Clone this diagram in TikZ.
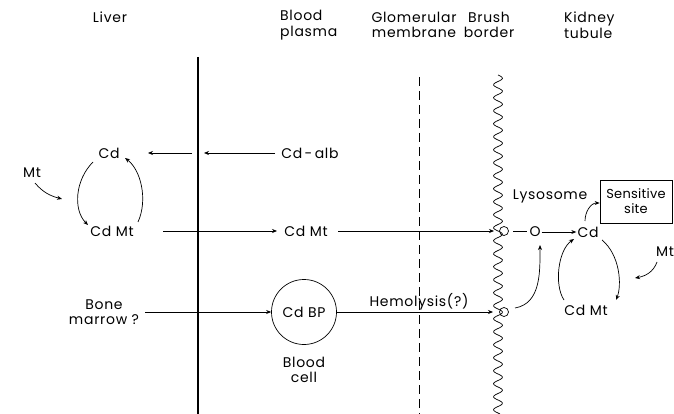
\documentclass[tikz,border=0pt]{standalone}
\usepackage{fontspec}
\setmainfont{Poppins}[LetterSpace=5]
\usetikzlibrary{arrows.meta}
\begin{document}
\begin{tikzpicture}[x=1pt,y=-1pt,
  font=\fontsize{14}{15.5}\selectfont,
  arr/.style={-{Stealth[length=5pt,width=4pt]}, line width=0.7pt},
  lbl/.style={inner sep=1pt, align=center},
  thin/.style={line width=0.7pt}]
\useasboundingbox (0,0) rectangle (674,414);
\fill[white] (0,0) rectangle (674,414);
% header
\node[lbl] (liver) at (110,17) {Liver};
\node[lbl, align=left, anchor=west] (plasma) at (279,25) {Blood\\plasma};
\node[lbl] (glom) at (414,25) {Glomerular\\membrane};
\node[lbl] (brush) at (489,25) {Brush\\border};
\node[lbl, align=left, anchor=west] (kidney) at (563,25) {Kidney\\tubule};
% membranes
\draw[line width=1.2pt] (198,57) -- (198,414);
\draw[line width=0.6pt, dash pattern=on 9pt off 5pt] (419,77) -- (419,414);
\draw[thin] plot[domain=75:414, samples=300, smooth] ({498+4.5*sin(27.6923*(\x-75))},\x);
\draw[thin] (504,231) circle (4.5);
\draw[thin] (504,312) circle (4.5);
% nodes
\node[lbl] (cdL) at (109,153) {Cd};
\node[lbl] (cdalb) at (310,153) {Cd\,-\,alb};
\node[lbl] (mtL) at (32,173) {Mt};
\node[lbl] (cdmtL) at (112,231) {Cd Mt};
\node[lbl] (cdmtP) at (306,231) {Cd Mt};
\node[lbl] (bone) at (104,312) {Bone\\marrow ?};
\node[circle, draw, thin, minimum size=65pt, inner sep=0pt] (cdbp) at (304,312) {Cd BP};
\node[lbl] (hemo) at (419,302) {Hemolysis(?)};
\node[lbl] (bcell) at (304,370) {Blood\\cell};
\node[lbl] (lyso) at (550,196) {Lysosome};
\node[draw, thin, minimum width=72pt, minimum height=43pt, align=center, inner sep=1pt,
  font=\fontsize{13}{15}\selectfont\addfontfeatures{LetterSpace=2}] (sens) at (636,201.5) {Sensitive\\site};
\node[lbl] (O) at (535,232) {O};
\node[lbl] (cdK) at (588,232) {Cd};
\node[lbl] (cdmtK) at (586,310) {Cd Mt};
\node[lbl] (mtK) at (665,252) {Mt};
% coordinates
\coordinate (wallA) at (192,153);
\coordinate (tipA) at (148,153);
\coordinate (tipB) at (204,153);
\coordinate (startB) at (275,153);
\coordinate (startC) at (163,231);
\coordinate (tipC) at (277,231);
\coordinate (startD) at (338,231);
\coordinate (loopA) at (494,231);
\coordinate (startE) at (145,312);
\coordinate (loopB) at (493,312);
% liver arrows
\draw[arr] (wallA) -- (tipA);
\draw[arr] (startB) -- (tipB);
\draw[arr] (93,162) .. controls (75,180) and (73,210) .. (88,225);
\draw[arr] (138,222) .. controls (148,200) and (141,170) .. (125,158);
\draw[arr] (35,183) to[out=-50,in=165] (62,199);
% plasma flows
\draw[arr] (startC) -- (tipC);
\draw[arr] (startD) -- (loopA);
\draw[arr] (startE) -- (cdbp.west);
\draw[arr] (cdbp.east) -- (loopB);
% kidney
\draw[thin] (513,231) -- (527,231);
\draw[arr] (O.east) -- (cdK.west);
\draw[arr] (515,308) to[out=10,in=-90] (540,245);
\draw[arr] (585,221) to[out=90,in=180] (sens.west |- 0,203);
\draw[arr] (602,240) .. controls (620,255) and (622,285) .. (616,300);
\draw[arr] (564,300) .. controls (554,285) and (558,250) .. (574,239);
\draw[arr] (657,262) to[out=-110,in=10] (635,278);
\end{tikzpicture}
\end{document}
